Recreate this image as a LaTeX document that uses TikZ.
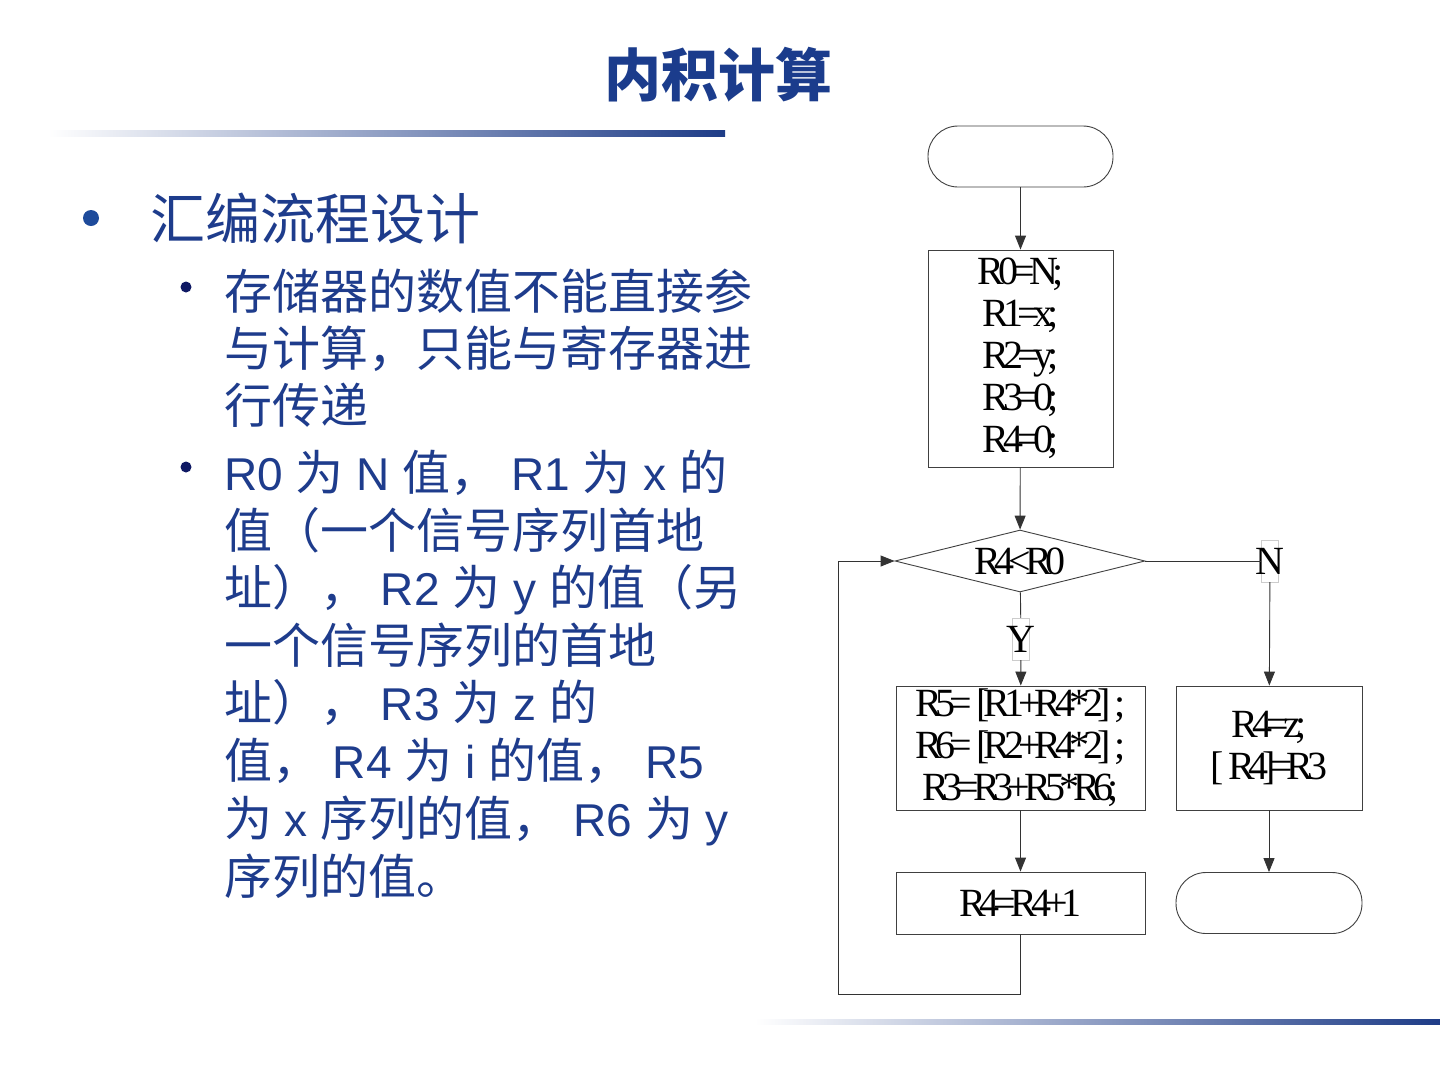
\documentclass[tikz,border=0pt]{standalone}
\usepackage{fontspec}
\setmainfont{Liberation Sans}
\newfontfamily\cjk{Noto Sans CJK SC}
\newfontfamily\flowfont{Liberation Serif}[LetterSpace=-15]
\usetikzlibrary{shapes.geometric,arrows.meta}
\definecolor{titleblue}{RGB}{27,60,140}
\definecolor{textblue}{RGB}{30,60,140}
\definecolor{dotblue}{RGB}{30,75,155}
\definecolor{navy}{RGB}{15,25,100}
\definecolor{lineblue}{RGB}{30,60,135}
\newcommand{\zh}[1]{{\cjk\fontsize{48}{57}\selectfont #1}}

\begin{document}
\begin{tikzpicture}[x=1pt,y=-1pt,
    every node/.style={inner sep=0pt},
    txt/.style={anchor=base west, text=textblue, font=\fontsize{46}{57}\selectfont},
    flow/.style={draw=black!75, line width=0.9pt, align=center, font=\flowfont\fontsize{40}{42}\selectfont},
    term/.style={flow, rounded corners=30pt, minimum width=185pt, minimum height=61pt},
    lab/.style={draw=black!20, fill=white, minimum width=17pt, minimum height=42pt, font=\flowfont\fontsize{40}{42}\selectfont},
    conn/.style={draw=black!80, line width=0.9pt},
    arr/.style={conn, -{Triangle[length=14pt,width=11pt]}}]

    \useasboundingbox (0,0) rectangle (1440,1080);
    \fill[white] (0,0) rectangle (1440,1080);

    \node[anchor=base, text=titleblue, font=\cjk\bfseries\fontsize{57}{60}\selectfont] (title) at (718,96) {内积计算};
    \shade[left color=white, right color=lineblue] (48,130) rectangle (725,136);
    \shade[left color=white, right color=lineblue] (755,1019) rectangle (1440,1024);

    \fill[dotblue] (91,218) circle (8);
    \node[anchor=base west, text=textblue, font=\cjk\fontsize{55}{60}\selectfont] (head) at (150,239) {汇编流程设计};

    \fill[navy] (186,287) circle (5.5);
    \node[txt] (a1) at (224,309) {\zh{存储器的数值不能直接参}};
    \node[txt] (a2) at (224,366) {\zh{与计算，只能与寄存器进}};
    \node[txt] (a3) at (224,423) {\zh{行传递}};

    \fill[navy] (186,467) circle (5.5);
    \node[txt] (b1) at (224,490) {R0 \zh{为} N \zh{值，} R1 \zh{为} x \zh{的}};
    \node[txt] (b2) at (224,548) {\zh{值（一个信号序列首地}};
    \node[txt] (b3) at (224,605) {\zh{址），} R2 \zh{为} y \zh{的值（另}};
    \node[txt] (b4) at (224,663) {\zh{一个信号序列的首地}};
    \node[txt] (b5) at (224,720) {\zh{址），} R3 \zh{为} z \zh{的}};
    \node[txt] (b6) at (224,778) {\zh{值，} R4 \zh{为} i \zh{的值，} R5};
    \node[txt] (b7) at (224,836) {\zh{为} x \zh{序列的值，} R6 \zh{为} y};
    \node[txt] (b8) at (224,894) {\zh{序列的值。}};

    \node[term] (start) at (1020.5,156.5) {};
    \node[flow, minimum width=185pt, minimum height=217pt] (init) at (1020.5,358.5) {R0=N;\\R1=x;\\R2=y;\\R3=0;\\R4=0;};
    \node[flow, diamond, aspect=4, minimum width=250pt, minimum height=62pt] (test) at (1020,561) {R4<R0};
    \node[flow, minimum width=249pt, minimum height=124pt] (body) at (1020.5,748) {R5= [R1+R4*2] ;\\R6= [R2+R4*2] ;\\R3=R3+R5*R6;};
    \node[flow, minimum width=249pt, minimum height=62pt] (inc) at (1020.5,903) {R4=R4+1};
    \node[flow, minimum width=186pt, minimum height=124pt] (store) at (1269,748) {R4=z;\\{[} R4]=R3};
    \node[term, minimum width=186pt] (stop) at (1269,903) {};
    \node[lab] (ylab) at (1021,639) {\makebox[0pt]{Y}};
    \node[lab] (nlab) at (1270,561) {\makebox[0pt]{N}};
    \coordinate (c1) at (1020.5,994);
    \coordinate (c2) at (838,994);
    \coordinate (c3) at (838,561);

    \draw[arr] (start) -- (init);
    \draw[arr] (init) -- (test);
    \draw[conn] (test) -- (ylab);
    \draw[arr] (ylab) -- (body);
    \draw[arr] (body) -- (inc);
    \draw[arr] (inc) -- (c1) -- (c2) -- (c3) -- (test.west);
    \draw[conn] (test) -- (nlab);
    \draw[arr] (nlab) -- (store);
    \draw[arr] (store) -- (stop);
\end{tikzpicture}
\end{document}
